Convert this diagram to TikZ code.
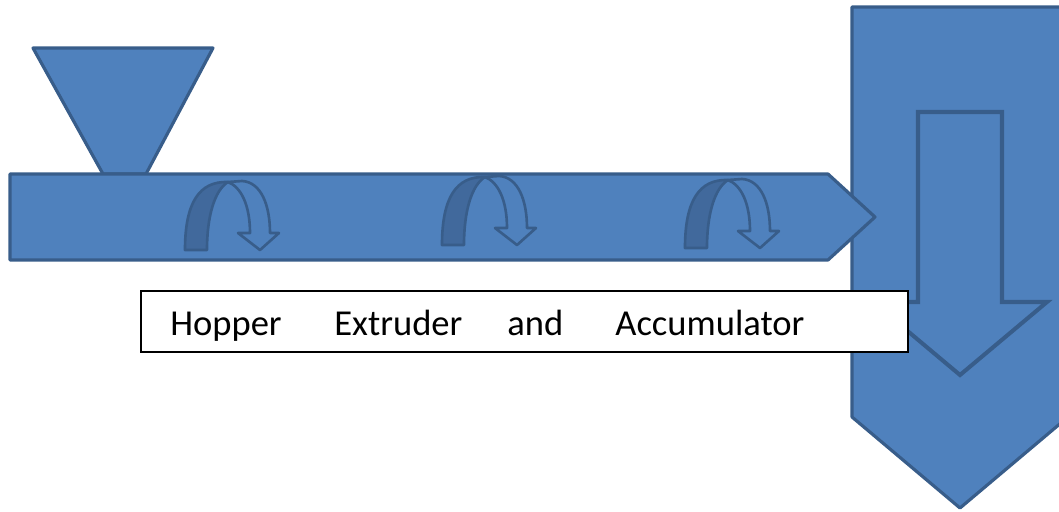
\documentclass[tikz,border=0pt]{standalone}
\usepackage{fontspec}
\setmainfont{Carlito}
\definecolor{fillblue}{HTML}{4F81BD}
\definecolor{edgeblue}{HTML}{385D8A}
\definecolor{shadeblue}{HTML}{41699C}
\tikzset{
  shape3d/.style={fill=fillblue, draw=edgeblue, line width=1.8pt, line join=round},
  innerarrow/.style={fill=fillblue, draw=edgeblue, line width=2.3pt, line join=miter},
  curlback/.style={fill=shadeblue, draw=edgeblue, line width=1.5pt, line join=round},
  curlfront/.style={fill=fillblue, draw=edgeblue, line width=1.5pt, line join=round},
  word/.style={anchor=base west, inner sep=0pt, font=\fontsize{20.8}{25}\selectfont},
  curl/.pic={
    \path[curlback] (0,0) .. controls (0,-47) and (14,-69) .. (43,-68)
       .. controls (30,-60) and (22,-35) .. (22,0) -- cycle;
    \path[curlfront] (43,-68) -- (57,-69) .. controls (76,-68) and (85,-45) .. (85,-17)
       -- (94,-17) -- (75,0) -- (53,-17) -- (65,-17)
       .. controls (65,-45) and (56,-63) .. (43,-68) -- cycle;
  }
}
\begin{document}
\begin{tikzpicture}[x=0.02cm, y=-0.02cm]
\useasboundingbox (0,0) rectangle (1059,511);
\clip (0,0) rectangle (1059,511);
% big vertical arrow (accumulator)
\path[shape3d] (852,7) -- (1068,7) -- (1068,417) -- (960,508) -- (852,417) -- cycle;
% inner down arrow
\path[innerarrow] (918,112) -- (1002,112) -- (1002,302) -- (1047,302) -- (960,375)
   -- (873,302) -- (918,302) -- cycle;
% hopper
\path[shape3d] (33,48) -- (213,48) -- (146,174) -- (103,174) -- cycle;
% extruder barrel
\path[shape3d] (10,174) -- (828,174) -- (875,217) -- (828,260) -- (10,260) -- cycle;
% screw rotation arrows
\pic at (185,250) {curl};
\pic at (442,245) {curl};
\pic at (685,248) {curl};
% label box
\node[draw=black, fill=white, line width=1pt, minimum width=767*0.02cm,
      minimum height=61*0.02cm, inner sep=0pt, anchor=north west] (label) at (140,290) {};
\node[word] (w1) at (170,335) {Hopper};
\node[word] (w2) at (334,335) {Extruder};
\node[word] (w3) at (507,335) {and};
\node[word] (w4) at (615,335) {Accumulator};
\end{tikzpicture}
\end{document}
